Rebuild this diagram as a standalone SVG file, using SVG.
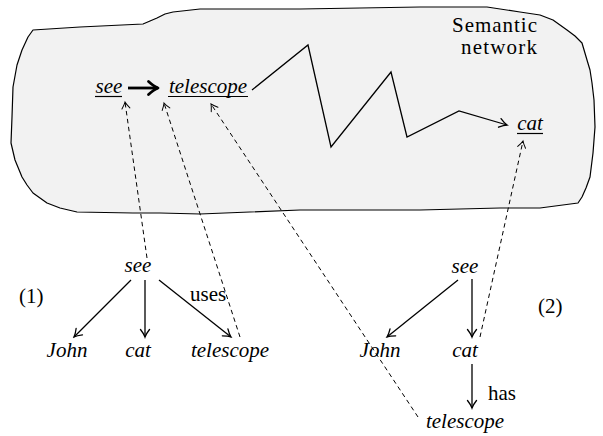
<svg xmlns="http://www.w3.org/2000/svg" width="603" height="436" viewBox="0 0 603 436">
<defs>
<style>
.it{font-style:italic}
.mid{text-anchor:middle}
.ul{stroke:#000;stroke-width:1.2}
.edge{fill:none;stroke:#000;stroke-width:1.3}
.dash{fill:none;stroke:#000;stroke-width:1;stroke-dasharray:4.5 3.5}
</style>
<marker id="ah" markerUnits="userSpaceOnUse" viewBox="-9 -6 11 12" refX="0" refY="0" markerWidth="11" markerHeight="12" orient="auto">
<path d="M-7.5,-4.5 Q-3,-1 0,0 Q-3,1 -7.5,4.5" fill="none" stroke="#000" stroke-width="1.3" stroke-linecap="round"/>
</marker>
<marker id="ahd" markerUnits="userSpaceOnUse" viewBox="-9 -6 11 12" refX="0" refY="0" markerWidth="11" markerHeight="12" orient="auto">
<path d="M-6.5,-4 Q-2.5,-1 0,0 Q-2.5,1 -6.5,4" fill="none" stroke="#000" stroke-width="1" stroke-linecap="round"/>
</marker>
<marker id="ahb" markerUnits="userSpaceOnUse" viewBox="-13 -9 15 18" refX="0" refY="0" markerWidth="15" markerHeight="18" orient="auto">
<path d="M-9.5,-6.5 Q-4,-1.5 0,0 Q-4,1.5 -9.5,6.5" fill="none" stroke="#000" stroke-width="2.8" stroke-linecap="round" stroke-linejoin="round"/>
</marker>
</defs>

<g font-family="Liberation Serif, DejaVu Serif, serif" font-size="21" fill="#000">
<g id="semantic-network">
<path d="M33,30 L80,27 L143,24 L150,21 L157,18 L165,14 L173,12 L200,9 L300,9 L420,7 L487,7 L520,12 L540,15 L553,20 L567,30 L575,36 L582,43 L587,60 L590,70 L592,83 L594,100 L595,127 L593,153 L590,177 L586,188 L582,197 L578,203 L540,208 L500,208 L420,210 L300,210 L200,214 L160,213 L133,213 L77,212 L60,208 L47,203 L33,193 L27,185 L22,177 L15,160 L11,143 L12,117 L13,87 L17,65 L22,50 L28,37 Z" fill="#f2f2f2" stroke="#000" stroke-width="1.2" stroke-linejoin="round"/>
<text x="537" y="32" text-anchor="end" textLength="85">Semantic</text>
<text x="537" y="54" text-anchor="end" textLength="76">network</text>
</g>

<g id="net-see">
<text class="it mid" x="109" y="93">see</text>
<line class="ul" x1="95" y1="96.5" x2="122" y2="96.5"/>
</g>
<g id="net-telescope">
<text class="it mid" x="208" y="93">telescope</text>
<line class="ul" x1="168" y1="96.5" x2="248" y2="96.5"/>
</g>
<g id="net-cat">
<text class="it mid" x="530" y="130">cat</text>
<line class="ul" x1="517" y1="133.5" x2="543" y2="133.5"/>
</g>

<g id="tree1-see"><text class="it mid" x="138" y="272">see</text></g>
<g id="tree1-john"><text class="it mid" x="67" y="357">John</text></g>
<g id="tree1-cat"><text class="it mid" x="138" y="357">cat</text></g>
<g id="tree1-telescope"><text class="it mid" x="230" y="357">telescope</text></g>
<g id="label1"><text x="19" y="303">(1)</text></g>

<g id="tree2-see"><text class="it mid" x="465" y="273">see</text></g>
<g id="tree2-john"><text class="it mid" x="380" y="357">John</text></g>
<g id="tree2-cat"><text class="it mid" x="465" y="357">cat</text></g>
<g id="tree2-telescope"><text class="it mid" x="465" y="428">telescope</text></g>
<g id="label2"><text x="538" y="313">(2)</text></g>

<g id="connectors">
<line x1="128" y1="88" x2="158" y2="88" fill="none" stroke="#000" stroke-width="2.8" marker-end="url(#ahb)"/>
<polyline class="edge" points="252,90 308,45 331,147 391,72 407,137 459,111 507,125" stroke-linejoin="miter" marker-end="url(#ah)"/>

<line class="edge" x1="131" y1="280" x2="74" y2="337" marker-end="url(#ah)"/>
<line class="edge" x1="145" y1="280" x2="145" y2="337" marker-end="url(#ah)"/>
<line class="edge" x1="159" y1="280" x2="231" y2="337" marker-end="url(#ah)"/>
<text x="190" y="301">uses</text>

<line class="edge" x1="458" y1="280" x2="387" y2="337" marker-end="url(#ah)"/>
<line class="edge" x1="472" y1="279" x2="472" y2="337" marker-end="url(#ah)"/>
<line class="edge" x1="472" y1="364" x2="472" y2="408" marker-end="url(#ah)"/>
<text x="488" y="400">has</text>

<line class="dash" x1="147" y1="258" x2="125" y2="102" marker-end="url(#ahd)"/>
<line class="dash" x1="240" y1="337" x2="164" y2="103" marker-end="url(#ahd)"/>
<line class="dash" x1="418" y1="417" x2="211" y2="104" marker-end="url(#ahd)"/>
<line class="dash" x1="480" y1="337" x2="523" y2="141" marker-end="url(#ahd)"/>
</g>
</g>
</svg>
